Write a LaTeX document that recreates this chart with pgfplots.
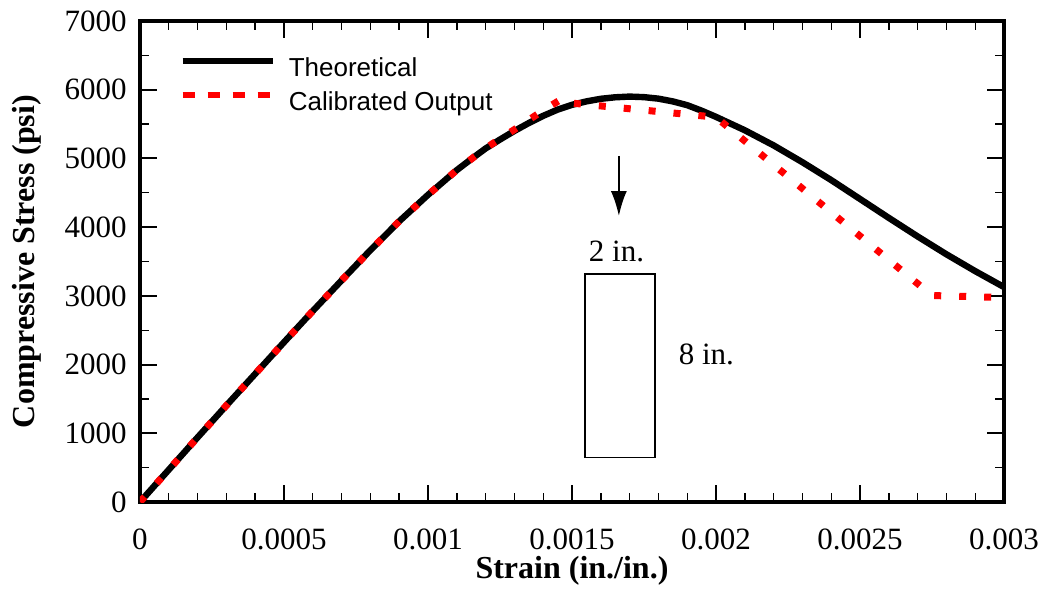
\documentclass[border=0pt]{standalone}
\usepackage{fontspec}
\setmainfont{Liberation Serif}
\newfontfamily\sansf{Liberation Sans}
\usepackage{graphicx}
\usepackage{pgfplots}
\pgfplotsset{compat=1.18}
\usetikzlibrary{arrows.meta}

\pgfplotstableread{
x y
0 0
0.0001 470
0.0002 940
0.0003 1405
0.0004 1865
0.0005 2325
0.0006 2780
0.0007 3225
0.0008 3665
0.0009 4085
0.0010 4470
0.00105 4650
0.0011 4830
0.00115 4990
0.0012 5145
0.00125 5275
0.0013 5400
0.00135 5515
0.0014 5620
0.00145 5710
0.0015 5780
0.00155 5830
0.0016 5868
0.00165 5890
0.0017 5900
0.00175 5892
0.0018 5870
0.00185 5830
0.0019 5775
0.00195 5695
0.0020 5605
0.0021 5410
0.0022 5190
0.0023 4945
0.0024 4685
0.0025 4410
0.0026 4135
0.0027 3865
0.0028 3605
0.0029 3360
0.0030 3128
}\theo

\pgfplotstableread{
x y
0 0
0.0001 470
0.0002 940
0.0003 1405
0.0004 1865
0.0005 2325
0.0006 2780
0.0007 3225
0.0008 3665
0.0009 4085
0.0010 4470
0.0011 4830
0.0012 5150
0.0013 5420
0.0014 5700
0.00147 5880
0.0015 5805
0.0020 5600
0.00275 3005
0.0030 2975
}\calib

\begin{document}
\begin{tikzpicture}
\useasboundingbox (-70pt,-47pt) rectangle (452pt,251pt);
\begin{axis}[
  scale only axis,
  width=432pt, height=240.5pt,
  xmin=0, xmax=0.003, ymin=0, ymax=7000,
  axis line style={line width=2pt},
  tick align=inside,
  every tick/.style={black, line width=1pt},
  minor tick style={line width=0.7pt},
  major tick length=8.5pt, minor tick length=4.7pt,
  xtick={0,0.0005,0.001,0.0015,0.002,0.0025,0.003},
  xticklabels={0,0.0005,0.001,0.0015,0.002,0.0025,0.003},
  minor x tick num=4,
  ytick={0,1000,2000,3000,4000,5000,6000,7000},
  yticklabels={0,1000,2000,3000,4000,5000,6000,7000},
  minor y tick num=1,
  scaled x ticks=false, scaled y ticks=false,
  ticklabel style={font=\fontsize{15.5}{16}\selectfont},
  xticklabel style={anchor=center, yshift=-18.5pt, inner sep=0pt},
  yticklabel style={anchor=east, inner sep=0pt, xshift=-6.5pt},
  xlabel={\textbf{Strain (in./in.)}},
  ylabel={\textbf{Compressive Stress (psi)}},
  label style={font=\fontsize{16}{18}\selectfont, inner sep=0pt},
  xlabel style={at={(axis description cs:0.5,0)}, anchor=center, yshift=-34.5pt},
  ylabel style={at={(axis description cs:-0.1308,0.5)}, anchor=center},
  legend style={at={(axis description cs:0,1)}, anchor=north west,
    xshift=19.5pt, yshift=-18pt, draw=none, fill=none,
    font=\sansf\fontsize{13}{13}\selectfont, inner sep=0pt, row sep=4.5pt,
    nodes={inner sep=0pt, text height=9.5pt, text depth=3pt},
    /tikz/every odd column/.append style={column sep=6.5pt}},
  legend cell align=left,
]
\addplot[black, line width=3.2pt, line join=round,
  legend image code/.code={\draw[black, line width=3.2pt] (0pt,4.6pt) -- (45pt,4.6pt);}]
  table[x=x,y=y] {\theo};
\addlegendentry{Theoretical}
\addplot[red, line width=3.5pt, dash pattern=on 3.5pt off 9pt,
  legend image code/.code={\draw[red, line width=3.2pt, dash pattern=on 6pt off 6.5pt] (0pt,4.6pt) -- (45pt,4.6pt);}]
  table[x=x,y=y] {\calib};
\addlegendentry{Calibrated Output}

\draw[line width=1pt, -{Latex[length=12.5pt, width=8pt]}] (axis cs:0.0016627,5036) -- (axis cs:0.0016627,4161);
\node[font=\fontsize{15.5}{16}\selectfont] at (axis cs:0.0016547,3650) {2 in.};
\draw[line width=0.7pt] (axis cs:0.0015445,3321) rectangle (axis cs:0.0017878,652);
\node[font=\fontsize{15.5}{16}\selectfont] at (axis cs:0.0019665,2144) {8 in.};
\end{axis}
\end{tikzpicture}
\end{document}
